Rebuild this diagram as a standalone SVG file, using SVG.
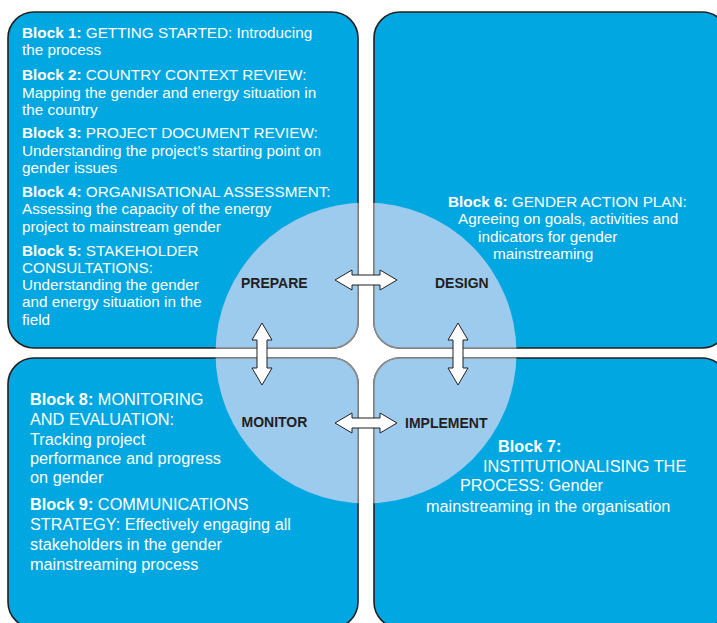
<svg xmlns="http://www.w3.org/2000/svg" width="717" height="623" viewBox="0 0 717 623">
<style>
.box{fill:#00a7e0;stroke:#231f20;stroke-width:1.6}
.inner{fill:#9ccbee;stroke:#8c8c8c;stroke-width:1.6}
.t{font-family:"Liberation Sans",Arial,sans-serif;fill:#ffffff}
.s1{font-size:15.3px}
.s2{font-size:16.3px}
.b{font-weight:bold}
.lbl{font-family:"Liberation Sans",Arial,sans-serif;font-weight:bold;font-size:14px;fill:#231f20}
.arr{fill:#ffffff;stroke:#231f20;stroke-width:1}
</style>
<defs>
<path id="dbl" d="M-31,0 L-14,-10 L-14,-5 L14,-5 L14,-10 L31,0 L14,10 L14,5 L-14,5 L-14,10 Z"/>
<clipPath id="circ"><circle cx="366" cy="353" r="150.5"/></clipPath>
</defs>
<rect width="717" height="623" fill="#ffffff"/>

<g id="box-prepare">
<rect class="box" x="8" y="12" width="350" height="336" rx="26"/>
</g>
<g id="box-design">
<rect class="box" x="374" y="12" width="354" height="336" rx="26"/>
</g>
<g id="box-monitor">
<rect class="box" x="8" y="358" width="350" height="270" rx="26"/>
</g>
<g id="box-implement">
<rect class="box" x="374" y="358" width="354" height="270" rx="26"/>
</g>

<g id="circle" clip-path="url(#circ)">
<rect class="inner" x="8" y="12" width="350" height="336" rx="26"/>
<rect class="inner" x="374" y="12" width="354" height="336" rx="26"/>
<rect class="inner" x="8" y="358" width="350" height="270" rx="26"/>
<rect class="inner" x="374" y="358" width="354" height="270" rx="26"/>
</g>

<g id="text-prepare" class="t s1">
<text x="22" y="37.5"><tspan class="b">Block 1:</tspan> GETTING STARTED: Introducing</text>
<text x="22" y="55">the process</text>
<text x="22" y="80"><tspan class="b">Block 2:</tspan> COUNTRY CONTEXT REVIEW:</text>
<text x="22" y="97.5">Mapping the gender and energy situation in</text>
<text x="22" y="114.5">the country</text>
<text x="22" y="137.5"><tspan class="b">Block 3:</tspan> PROJECT DOCUMENT REVIEW:</text>
<text x="22" y="155.5">Understanding the project’s starting point on</text>
<text x="22" y="172.5">gender issues</text>
<text x="22" y="196.5"><tspan class="b">Block 4:</tspan> ORGANISATIONAL ASSESSMENT:</text>
<text x="22" y="214">Assessing the capacity of the energy</text>
<text x="22" y="231.5">project to mainstream gender</text>
<text x="22" y="256"><tspan class="b">Block 5:</tspan> STAKEHOLDER</text>
<text x="22" y="273">CONSULTATIONS:</text>
<text x="22" y="290">Understanding the gender</text>
<text x="22" y="307">and energy situation in the</text>
<text x="22" y="325">field</text>
</g>

<g id="text-design" class="t s1">
<text x="448" y="207"><tspan class="b">Block 6:</tspan> GENDER ACTION PLAN:</text>
<text x="458" y="224">Agreeing on goals, activities and</text>
<text x="478" y="242">indicators for gender</text>
<text x="493" y="259">mainstreaming</text>
</g>

<g id="text-implement" class="t s2">
<text x="498" y="452" class="b">Block 7:</text>
<text x="483" y="472">INSTITUTIONALISING THE</text>
<text x="460" y="491">PROCESS: Gender</text>
<text x="426" y="512">mainstreaming in the organisation</text>
</g>

<g id="text-monitor" class="t s2">
<text x="30" y="405"><tspan class="b">Block 8:</tspan> MONITORING</text>
<text x="30" y="425">AND EVALUATION:</text>
<text x="30" y="445">Tracking project</text>
<text x="30" y="464">performance and progress</text>
<text x="30" y="483">on gender</text>
<text x="30" y="510"><tspan class="b">Block 9:</tspan> COMMUNICATIONS</text>
<text x="30" y="530">STRATEGY: Effectively engaging all</text>
<text x="30" y="550">stakeholders in the gender</text>
<text x="30" y="570">mainstreaming process</text>
</g>

<g id="labels">
<text class="lbl" x="241" y="288">PREPARE</text>
<text class="lbl" x="435" y="288">DESIGN</text>
<text class="lbl" x="241.5" y="427">MONITOR</text>
<text class="lbl" x="405" y="428">IMPLEMENT</text>
</g>

<g id="connectors">
<use href="#dbl" class="arr" transform="translate(366,280)"/>
<use href="#dbl" class="arr" transform="translate(366,423)"/>
<use href="#dbl" class="arr" transform="translate(262,354) rotate(90)"/>
<use href="#dbl" class="arr" transform="translate(458,354) rotate(90)"/>
</g>
</svg>
